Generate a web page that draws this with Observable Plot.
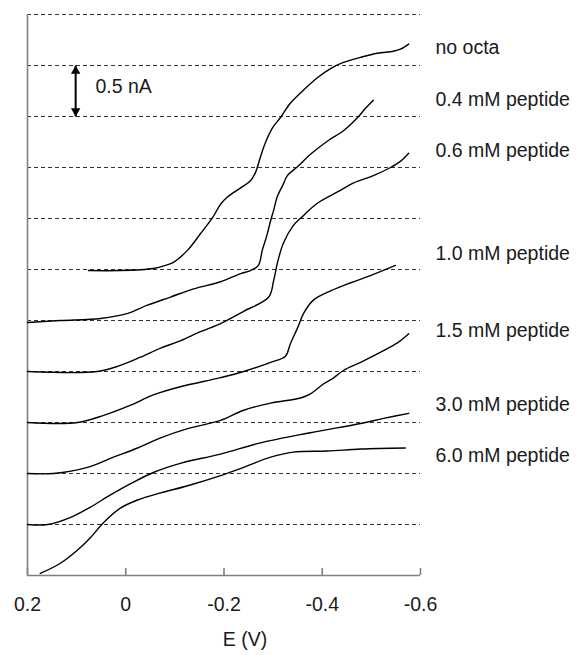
<!DOCTYPE html>
<html>
<head>
<meta charset="utf-8">
<script src="https://cdn.jsdelivr.net/npm/d3@7"></script>
<script src="https://cdn.jsdelivr.net/npm/@observablehq/plot@0.6"></script>
<style>
  body { margin: 0; background: #fff; }
</style>
</head>
<body>
<div id="chart"></div>
<script>
// ---- data (E in V, I in nA) ----
const xTicks = [0.2, 0, -0.2, -0.4, -0.6];
const dashLevels = [0.5, 1.0, 1.5, 2.0, 2.5, 3.0, 3.5, 4.0, 4.5, 5.0, 5.5];
const seriesNames = ["no octa", "0.4 mM peptide", "0.6 mM peptide", "1.0 mM peptide", "1.5 mM peptide", "3.0 mM peptide", "6.0 mM peptide"];
const labelLevels = [5.17, 4.66, 4.16, 3.15, 2.40, 1.67, 1.17];

const E_noOcta = [0.076, 0.011, -0.056, -0.081, -0.097, -0.126, -0.152, -0.177, -0.193, -0.207, -0.234, -0.254, -0.264, -0.274, -0.284, -0.299, -0.315, -0.335, -0.362, -0.390, -0.417, -0.443, -0.478, -0.512, -0.545, -0.559, -0.576];
const I_noOcta = [2.99, 2.99, 3.01, 3.04, 3.07, 3.19, 3.35, 3.51, 3.64, 3.71, 3.80, 3.87, 3.95, 4.10, 4.24, 4.39, 4.49, 4.63, 4.76, 4.88, 4.97, 5.03, 5.08, 5.12, 5.14, 5.16, 5.21];

const E_04 = [0.200, 0.133, 0.051, -0.004, -0.044, -0.091, -0.138, -0.193, -0.234, -0.254, -0.270, -0.278, -0.287, -0.295, -0.301, -0.309, -0.319, -0.329, -0.350, -0.376, -0.411, -0.443, -0.472, -0.488, -0.504];
const I_04 = [2.48, 2.50, 2.52, 2.57, 2.65, 2.73, 2.81, 2.88, 2.96, 2.99, 3.04, 3.19, 3.33, 3.48, 3.58, 3.72, 3.82, 3.92, 4.01, 4.13, 4.26, 4.36, 4.49, 4.58, 4.66];

const E_06 = [0.200, 0.058, 0.011, -0.030, -0.071, -0.111, -0.152, -0.193, -0.240, -0.291, -0.301, -0.309, -0.321, -0.341, -0.362, -0.390, -0.431, -0.464, -0.504, -0.539, -0.559, -0.576];
const I_06 = [2.00, 2.00, 2.06, 2.14, 2.23, 2.30, 2.39, 2.47, 2.59, 2.73, 2.89, 3.07, 3.26, 3.43, 3.53, 3.65, 3.76, 3.85, 3.92, 4.00, 4.06, 4.14];

const E_10 = [0.200, 0.098, 0.045, -0.010, -0.056, -0.111, -0.193, -0.240, -0.295, -0.325, -0.335, -0.350, -0.362, -0.382, -0.417, -0.458, -0.498, -0.549];
const I_10 = [1.50, 1.50, 1.57, 1.67, 1.77, 1.85, 1.94, 2.00, 2.09, 2.15, 2.27, 2.43, 2.57, 2.70, 2.79, 2.87, 2.94, 3.04];

const E_15 = [0.200, 0.147, 0.078, 0.025, -0.024, -0.071, -0.126, -0.193, -0.240, -0.295, -0.356, -0.376, -0.403, -0.421, -0.443, -0.478, -0.519, -0.553, -0.576];
const I_15 = [1.00, 1.00, 1.06, 1.16, 1.25, 1.35, 1.44, 1.52, 1.62, 1.69, 1.74, 1.78, 1.88, 1.93, 2.01, 2.09, 2.19, 2.28, 2.37];

const E_30 = [0.200, 0.159, 0.112, 0.072, 0.031, -0.010, -0.056, -0.111, -0.193, -0.274, -0.376, -0.478, -0.525, -0.576];
const I_30 = [0.50, 0.50, 0.57, 0.67, 0.79, 0.90, 1.01, 1.10, 1.19, 1.30, 1.40, 1.49, 1.54, 1.59];

const E_60 = [0.174, 0.133, 0.098, 0.072, 0.045, 0.011, -0.024, -0.071, -0.126, -0.193, -0.240, -0.295, -0.341, -0.411, -0.478, -0.569];
const I_60 = [0.02, 0.12, 0.25, 0.37, 0.52, 0.66, 0.74, 0.81, 0.88, 0.98, 1.06, 1.16, 1.21, 1.22, 1.24, 1.25];

const scaleBarE = 0.102;       // position of the 0.5 nA scale arrow
const scaleBarI = [4.5, 5.0];  // arrow span (0.5 nA)
const scaleBarText = "0.5 nA";
const scaleBarTextE = 0.0616;
const scaleBarTextI = 4.79;
const xLabel = "E (V)";

// ---- build table ----
const seriesE = [E_noOcta, E_04, E_06, E_10, E_15, E_30, E_60];
const seriesI = [I_noOcta, I_04, I_06, I_10, I_15, I_30, I_60];
const rows = [];
seriesNames.forEach((name, s) => {
  seriesE[s].forEach((e, i) => rows.push({series: name, E: e, I: seriesI[s][i]}));
});

// ---- layout ----
const W = 577, H = 655, mL = 27, mR = 157, mT = 14, mB = 80;
const innerH = H - mT - mB;
const FS = 19.5;
const gray = "#808080";
const textColor = "#1a1a1a";

const chart = Plot.plot({
  width: W, height: H,
  marginLeft: mL, marginRight: mR, marginTop: mT, marginBottom: mB,
  x: {domain: [0.2, -0.6], label: null},
  y: {domain: [0, 5.5], axis: null, label: null},
  style: {fontFamily: "'Liberation Sans', Arial, sans-serif", background: "white", color: textColor},
  marks: [
    Plot.ruleY(dashLevels, {stroke: "#333", strokeWidth: 1, strokeDasharray: "4,3"}),
    Plot.ruleX([xTicks[0]], {stroke: gray, strokeWidth: 1.6}),
    Plot.ruleY([0], {stroke: gray, strokeWidth: 1.6}),
    Plot.tickX(xTicks, {x: d => d, stroke: gray, strokeWidth: 1.6, insetTop: innerH - 7}),
    Plot.axisX({ticks: xTicks, tickSize: 0, tickPadding: 22, tickFormat: d => String(d), fontSize: FS, label: null}),
    Plot.text([xLabel], {frameAnchor: "bottom", dy: 70, dx: 21, fontSize: FS, fill: textColor}),
    Plot.line(rows, {x: "E", y: "I", z: "series", stroke: "black", strokeWidth: 1.4, curve: "catmull-rom", strokeLinejoin: "round"}),
    Plot.text(seriesNames, {y: (d, i) => labelLevels[i], frameAnchor: "right", dx: 15, textAnchor: "start", fontSize: FS, fill: textColor}),
    Plot.link([scaleBarI], {x1: scaleBarE, x2: scaleBarE, y1: d => d[0], y2: d => d[1], stroke: "black", strokeWidth: 2}),
    Plot.dot([scaleBarI[1]], {x: scaleBarE, y: d => d, symbol: "triangle", r: 3.5, fill: "black", dy: 5.44}),
    Plot.dot([scaleBarI[0]], {x: scaleBarE, y: d => d, symbol: "triangle", r: 3.5, fill: "black", rotate: 180, dy: -5.44}),
    Plot.text([scaleBarText], {x: scaleBarTextE, y: scaleBarTextI, textAnchor: "start", fontSize: FS, fill: textColor})
  ]
});
document.getElementById("chart").appendChild(chart);
</script>
</body>
</html>
